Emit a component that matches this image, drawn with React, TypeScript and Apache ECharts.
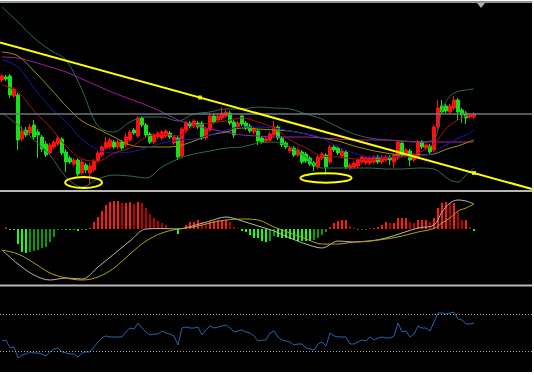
import React, { useEffect, useRef } from "react";
import * as echarts from "echarts";

const SLOTS = 133;
const categories = Array.from({ length: SLOTS }, (_, i) => `${i + 1}`);

// [open, close, low, high] in price points
const candles = [
  [109,113,107,115],[112,110,108,114],[113,94,91,115],[93,100,91,102],[94,49,39,96],
  [50,58,48,63],[59,54,52,62],[56,62,54,65],[64,52,50,69],[57,54,31,60],
  [52,40,37,54],[45,34,32,48],[36,44,34,46],[42,47,40,49],[45,51,43,54],
  [50,36,34,52],[37,27,17,40],[31,27,25,33],[25,29,23,31],[29,15,13,31],
  [16,27,14,30],[24,19,16,26],[16,23,4,26],[19,28,17,30],[28,36,26,38],
  [34,42,32,44],[41,47,39,52],[42,49,40,51],[47,42,40,49],[42,47,40,49],
  [47,41,39,49],[44,52,42,56],[49,57,47,59],[59,56,54,61],[53,71,51,73],
  [71,64,62,73],[64,54,52,66],[55,47,45,57],[47,54,45,56],[52,56,50,58],
  [51,57,49,59],[53,58,51,60],[56,52,50,58],[46,52,44,54],[51,32,29,53],
  [33,60,31,62],[59,66,57,68],[66,63,61,68],[63,68,61,70],[66,62,60,68],
  [66,51,49,68],[51,60,49,62],[59,73,57,75],[73,67,65,75],[69,73,67,75],
  [71,76,69,82],[73,77,71,79],[76,66,64,78],[67,54,51,69],[62,66,60,68],
  [73,65,63,75],[66,61,59,68],[63,58,56,65],[57,60,55,62],[58,48,44,60],
  [51,47,45,53],[48,50,46,52],[49,55,47,57],[54,62,52,68],[62,51,49,64],
  [51,44,42,53],[46,42,40,48],[38,41,36,43],[41,34,32,43],[34,39,32,41],
  [37,27,25,39],[35,28,26,37],[31,25,23,33],[26,23,18,28],[22,32,20,34],
  [31,35,29,37],[34,22,14,36],[27,42,25,44],[42,39,37,44],[41,36,34,43],
  [33,38,31,40],[37,22,20,39],[21,24,19,26],[22,26,20,28],[23,29,21,31],
  [27,32,25,34],[26,31,24,33],[26,31,24,33],[27,32,25,34],[32,27,25,34],
  [27,32,25,34],[29,32,27,34],[32,29,24,34],[27,34,21,36],[31,47,29,49],
  [46,34,32,48],[34,39,32,41],[38,29,23,40],[29,34,27,36],[32,47,30,49],
  [47,42,40,49],[41,44,39,46],[43,37,35,45],[39,62,37,64],[62,81,60,89],
  [83,77,75,89],[83,78,76,85],[77,83,75,85],[81,89,79,93],[89,77,69,91],
  [79,74,66,81],[76,71,65,78],[72,74,70,76],[72,75,70,77],
];

// indicator lines, read at these bar indexes
const lineIdx = [0,4,8,12,16,20,24,28,32,36,40,44,48,52,56,60,64,68,72,76,80,84,88,92,96,100,104,108,110,112,114,116,118];
const bbUpper = [182,167,151,139,129,99,63,57,67,72,72,68,75,77,80,80,82,81,80,75,70,62,55,51,49,48,47,50,79,93,97.5,99,100];
const bbLower = [76,64,49,34,12,2,10,14,13,11,22,30,35,38,41,42,46,47,42,32,21,21,21,21,20,20,21,20,15,9,7,14,21];
const maRed = [104,97,78,62,43,30,28,36,41,52,55,53,63,66,68,71,67,61,49,41,33,32,30,29,31,32,36,45,55,64,69,73,76];
const maBlue = [129,122,101,82,67,50,39,36,37,41,46,49,50,54,59,62,62,61,58,55,51,42,36,32,32,32,33,36,42,46,51,54,59];
const maOlive = [137,133,118,101,83,68,60,52,44,42,42,43,48,54,57,61,60,59,58,55,51,48,43,39,36,34,34,35,38,41,43,46,49];
const maPurple = [132,131,127,122,117,110,103,96,90,84,77,69,64,60,57,54,53,52,52,52,51,50,49,49,49,48,47,47,47,47,47,47,47];
const levelLine = 75.5;

const trendAnchors = [[49.5, 91.5], [118, 16]];
// annotation ellipses: [centerBar, centerPrice, radiusBars, radiusPrice]
const ellipses = [[20.4, 6.5, 4.6, 5.5], [81, 11, 6.4, 4.7]];

const macdHist = [
  0,1.5,-1,-1,-15,-23,-24,-23,-22,-21,-19,-18,-13,-8,-1,-0.7,-0.7,-0.7,-0.7,-2,
  -0.7,-0.7,1,7,12,18,24,27,28,28,26,26,27,25,27,26,21,15,11,8,
  6,4,1,0.5,-5,0.5,4,7,7,9,7,6,7,8,9,9,9,7,2,0.5,
  -2,-3,-6,-9,-9,-12,-13,-12,-7,-8,-9,-9,-10,-11,-12,-12,-12,-12,-11,-9,
  -6,-3,2,6,8,9,9,3,1,-0.5,-0.5,-0.5,0.5,1,2,4,7,6,6,11,
  11,11,7,6,9,9,9,7,11,21,26,27,26,26,17,9,9,2,-2,
];
const macdLine = [-21,-35,-46,-51,-49,-50,-38,-25,-12,0,0.5,0,3.5,8,12,8,3,-2,-9,-15,-19,-12,-13,-12,-9,-4,1,4,17,26,29,28,25];
const signalLine = [-21,-25,-34,-44,-49,-51,-48,-39,-25,-12,-4,0,2,6,9,10,9,2,-4,-10,-15,-15,-13,-12,-10,-7,-3,0.5,6,11,18,21,25];

const rsi = [
  41.6,42.6,34.0,35.1,23.2,26.4,27.5,29.7,28.6,28.6,27.5,25.3,29.7,32.9,34.0,29.7,28.6,27.5,27.5,24.2,
  28.6,29.7,29.7,35.1,40.5,44.8,47.0,45.9,45.9,45.9,45.9,51.3,55.6,54.5,61.0,55.6,51.3,48.1,49.1,49.1,
  52.4,50.2,49.1,47.0,37.2,55.6,56.7,55.6,55.6,56.7,48.1,53.5,57.8,55.6,56.7,57.8,58.9,55.6,51.3,52.4,
  53.5,51.3,50.2,47.0,41.6,42.6,42.6,50.2,52.4,45.9,42.6,41.6,40.5,37.2,38.3,38.3,34.0,32.9,31.8,38.3,
  40.5,36.1,50.2,47.0,45.9,45.9,45.9,38.3,38.3,40.5,42.6,41.6,45.9,42.6,44.8,45.9,44.8,44.8,47.0,61.0,
  51.3,52.4,45.9,49.1,57.8,55.6,55.6,52.4,62.1,71.9,71.9,70.8,71.9,72.9,65.4,64.3,60.0,60.0,61.0,
];
const rsiLevels = [70, 30];

const pair = (vals: number[]) => lineIdx.map((k, i) => [k, vals[i]]);

function trendPoints() {
  const [[x1, y1], [x2, y2]] = trendAnchors;
  const slope = (y2 - y1) / (x2 - x1);
  const xs = [-0.5, SLOTS - 0.5];
  return xs.map((x) => [x, y1 + slope * (x - x1)]);
}

export default function App() {
  const ref = useRef<HTMLDivElement>(null);
  useEffect(() => {
    const chart = echarts.init(ref.current!, null, { renderer: "svg" });
    const line = (vals: number[], color: string, xi = 0, yi = 0) => ({
      type: "line",
      xAxisIndex: xi,
      yAxisIndex: yi,
      data: pair(vals),
      symbol: "none",
      showSymbol: false,
      smooth: 0.35,
      lineStyle: { color, width: 1 },
      silent: true,
      z: 3,
    });
    const histData = macdHist.map((v, i) => {
      const prev = i > 0 ? macdHist[i - 1] : 0;
      let color;
      if (v >= 0) color = v >= prev ? "#ff1a1a" : "#b80000";
      else color = v <= prev ? "#1aff1a" : "#0a9a0a";
      return { value: v, itemStyle: { color } };
    });
    const xCat = (gi: number) => ({
      type: "category",
      gridIndex: gi,
      data: categories,
      boundaryGap: true,
      show: false,
    });
    const option: any = {
      animation: false,
      backgroundColor: "#000000",
      grid: [
        { left: 0, top: 4, width: 532, height: 185 },
        { left: 0, top: 193, width: 532, height: 91 },
        { left: 0, top: 287, width: 532, height: 85 },
      ],
      xAxis: [
        xCat(0),
        xCat(1),
        xCat(2),
        { type: "value", gridIndex: 0, min: -0.5, max: SLOTS - 0.5, show: false },
      ],
      yAxis: [
        { type: "value", gridIndex: 0, min: 0, max: 185, show: false },
        { type: "value", gridIndex: 1, min: -55, max: 36, show: false },
        { type: "value", gridIndex: 2, min: 8, max: 100, show: false },
      ],
      series: [
        {
          type: "candlestick",
          xAxisIndex: 0,
          yAxisIndex: 0,
          data: candles,
          barWidth: 3,
          silent: true,
          itemStyle: {
            color: "#ff1010",
            color0: "#18e018",
            borderColor: "#ff1010",
            borderColor0: "#18e018",
            borderWidth: 1,
          },
          markLine: {
            silent: true,
            symbol: "none",
            label: { show: false },
            lineStyle: { color: "#6e7780", width: 1.5, type: "solid" },
            data: [{ yAxis: levelLine }],
          },
          z: 2,
        },
        line(bbUpper, "#2c6c4e"),
        line(bbLower, "#2c6c4e"),
        line(maPurple, "#a41ca4"),
        line(maOlive, "#9a9200"),
        line(maBlue, "#1818b0"),
        line(maRed, "#b01010"),
        {
          type: "line",
          xAxisIndex: 3,
          yAxisIndex: 0,
          data: trendPoints(),
          symbol: "none",
          lineStyle: { color: "#ffff00", width: 2 },
          silent: true,
          z: 5,
        },
        {
          type: "scatter",
          xAxisIndex: 3,
          yAxisIndex: 0,
          data: trendAnchors,
          symbol: "rect",
          symbolSize: 4,
          itemStyle: { color: "#ffff00" },
          silent: true,
          z: 6,
        },
        {
          type: "custom",
          xAxisIndex: 3,
          yAxisIndex: 0,
          data: ellipses,
          silent: true,
          clip: false,
          z: 6,
          renderItem: (_p: any, api: any) => {
            const c = api.coord([api.value(0), api.value(1)]);
            const s = api.size([api.value(2), api.value(3)]);
            return {
              type: "ellipse",
              shape: { cx: c[0], cy: c[1], rx: s[0], ry: s[1] },
              style: { fill: "none", stroke: "#ffff00", lineWidth: 2 },
            };
          },
        },
        {
          type: "bar",
          xAxisIndex: 1,
          yAxisIndex: 1,
          data: histData,
          barWidth: 2,
          silent: true,
          z: 2,
        },
        line(macdLine, "#b4b4b4", 1, 1),
        line(signalLine, "#b0a400", 1, 1),
        {
          type: "line",
          xAxisIndex: 2,
          yAxisIndex: 2,
          data: rsi,
          symbol: "none",
          lineStyle: { color: "#2466ac", width: 1 },
          silent: true,
          markLine: {
            silent: true,
            symbol: "none",
            label: { show: false },
            lineStyle: { color: "#a8a8a8", width: 1, type: [1, 2] },
            data: rsiLevels.map((v) => ({ yAxis: v })),
          },
        },
      ],
      graphic: [
        { type: "rect", z: 100, shape: { x: 0, y: 0, width: 534, height: 1.5 }, style: { fill: "#ffffff" }, silent: true },
        { type: "rect", z: 100, shape: { x: 532, y: 0, width: 2, height: 375 }, style: { fill: "#ffffff" }, silent: true },
        { type: "rect", z: 100, shape: { x: 0, y: 372, width: 534, height: 3 }, style: { fill: "#ffffff" }, silent: true },
        { type: "rect", z: 100, shape: { x: 0, y: 1.5, width: 532, height: 1.5 }, style: { fill: "#9a9a9a" }, silent: true },
        { type: "rect", z: 100, shape: { x: 0, y: 190, width: 532, height: 2 }, style: { fill: "#b8b8b8" }, silent: true },
        { type: "rect", z: 100, shape: { x: 0, y: 284.5, width: 532, height: 2 }, style: { fill: "#b8b8b8" }, silent: true },
        { type: "polygon", z: 100, shape: { points: [[477, 3], [485, 3], [481, 8]] }, style: { fill: "#9ab0c4" }, silent: true },
      ],
    };
    chart.setOption(option);
    return () => chart.dispose();
  }, []);
  return (
    <div
      ref={ref}
      style={{ position: "fixed", left: 0, top: 0, width: 534, height: 375 }}
    />
  );
}
